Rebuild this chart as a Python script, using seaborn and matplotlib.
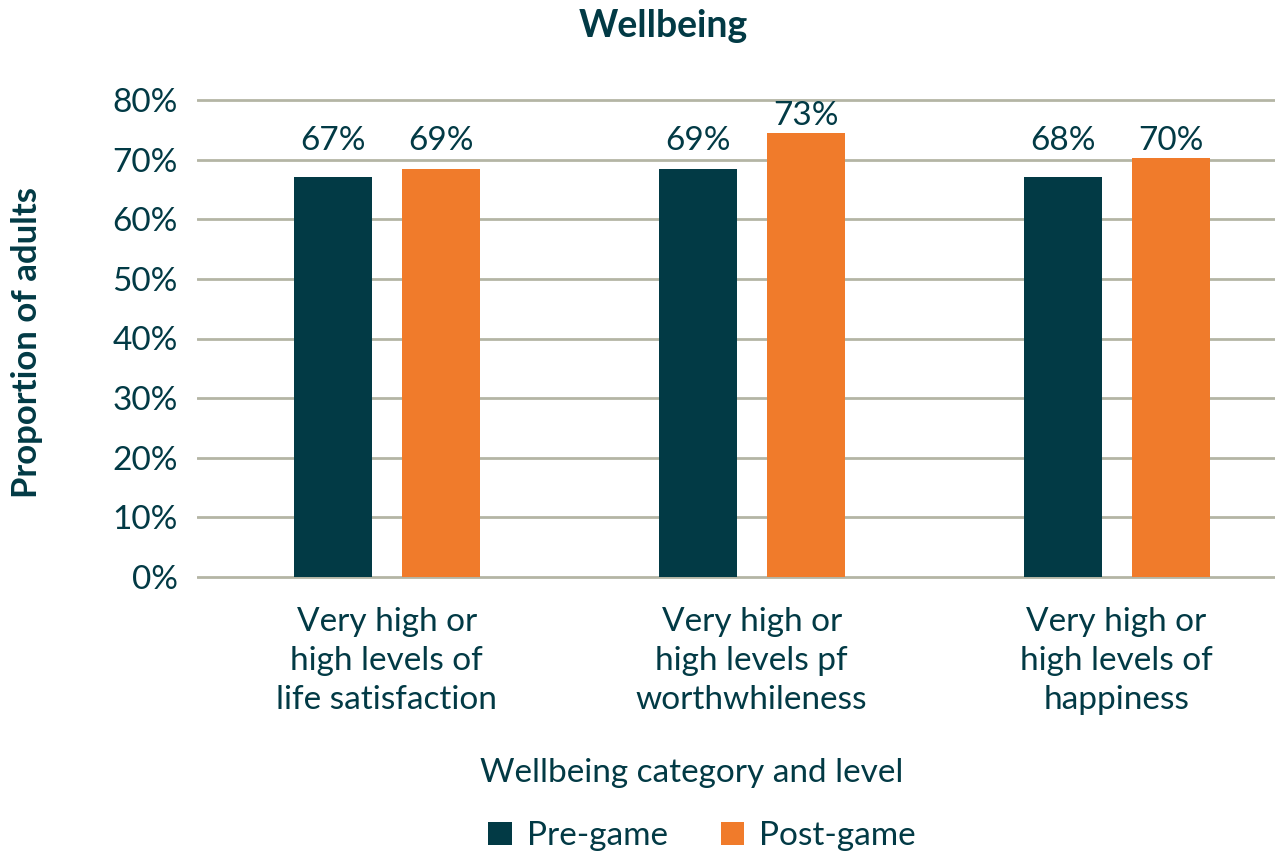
import matplotlib
matplotlib.use("Agg")
import matplotlib.pyplot as plt
import seaborn as sns
import pandas as pd
from matplotlib.patches import Patch

categories = ["Very high or\nhigh levels of\nlife satisfaction",
              "Very high or\nhigh levels pf\nworthwhileness",
              "Very high or\nhigh levels of\nhappiness"]
pre_game = [67.1, 68.5, 67.1]
post_game = [68.5, 74.5, 70.3]
pre_labels = ["67%", "69%", "68%"]
post_labels = ["69%", "73%", "70%"]
series = ["Pre-game", "Post-game"]
yticks = [0, 10, 20, 30, 40, 50, 60, 70, 80]

TEXT = "#023A45"
DARK = "#023A45"
ORANGE = "#F07B2B"
GRID = "#B4B5A5"
FS = 24

sns.set_theme(style="white")
plt.rcParams["font.family"] = ["Lato", "DejaVu Sans"]

df = pd.DataFrame({
    "category": categories * 2,
    "value": pre_game + post_game,
    "series": [series[0]] * 3 + [series[1]] * 3,
})

fig = plt.figure(figsize=(12.75, 8.52), dpi=100)
ax = fig.add_axes([197 / 1275, 1 - 581 / 852, 1 - 197 / 1275, (581 - 96) / 852])

sns.barplot(data=df, x="category", y="value", hue="series",
            palette=[DARK, ORANGE], width=0.592, gap=0.278,
            legend=False, ax=ax, saturation=1, linewidth=0)

ax.set_ylim(-0.67, 80.67)
ax.set_xlim(-0.520, 2.434)
ax.set_yticks(yticks)
ax.set_yticklabels([f"{t}%" for t in yticks], color=TEXT, fontsize=FS)
ax.tick_params(axis="y", length=0, pad=14)
ax.tick_params(axis="x", length=0, pad=19, labelsize=FS, labelcolor=TEXT)
for lbl in ax.get_xticklabels():
    lbl.set_linespacing(1.36)
ax.yaxis.grid(True, color=GRID, linewidth=2)
ax.set_axisbelow(True)
for s in ax.spines.values():
    s.set_visible(False)
ax.set_xlabel("")
ax.set_ylabel("")

for container, labels in zip(ax.containers, [pre_labels, post_labels]):
    for bar, lab in zip(container, labels):
        h = bar.get_height()
        ypos = max(h, 70.3)
        ax.annotate(lab, xy=(bar.get_x() + bar.get_width() / 2, ypos),
                    xytext=(0, 1), textcoords="offset points",
                    ha="center", va="bottom", fontsize=FS, color=TEXT)

fig.text(663 / 1275, 1 - 26 / 852, "Wellbeing", ha="center", va="center",
         fontsize=27, fontweight="bold", color=TEXT)
fig.text(692 / 1275, 1 - 773 / 852, "Wellbeing category and level",
         ha="center", va="center", fontsize=FS, color=TEXT)
fig.text(27 / 1275, 1 - 343 / 852, "Proportion of adults", rotation=90,
         ha="center", va="center", fontsize=25, fontweight="bold", color=TEXT)

handles = [Patch(facecolor=DARK, edgecolor="none"), Patch(facecolor=ORANGE, edgecolor="none")]
leg = fig.legend(handles, series, loc="center", bbox_to_anchor=(702 / 1275, 1 - 836 / 852),
                 ncol=2, frameon=False, fontsize=FS, handlelength=0.7, handleheight=0.7,
                 handletextpad=0.45, columnspacing=1.6, labelcolor=TEXT)

fig.savefig("out.png", dpi=100)
